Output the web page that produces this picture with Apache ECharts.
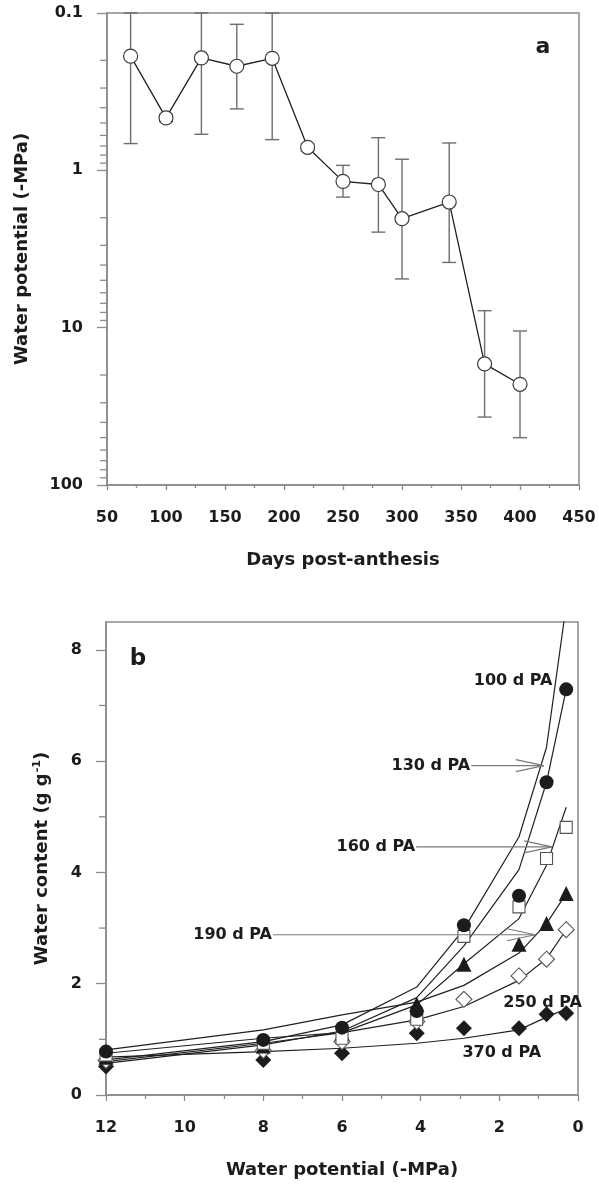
<!DOCTYPE html>
<html>
<head>
<meta charset="utf-8">
<script src="https://cdn.jsdelivr.net/npm/echarts@6/dist/echarts.min.js"></script>
<style>
  html, body { margin: 0; padding: 0; background: #fff; }
  #chart { width: 599px; height: 1184px; }
</style>
</head>
<body>
<div id="chart"></div>
<script>
// --- Panel a: water potential vs days post-anthesis ---
const days = [70, 100, 130, 160, 190, 220, 250, 280, 300, 340, 370, 400];
const potential = [0.188, 0.464, 0.193, 0.218, 0.194, 0.714, 1.175, 1.23, 2.03, 1.59, 17.0, 22.9];
const errUpper = [0.1, 0.44, 0.1, 0.118, 0.1, 0.68, 0.93, 0.62, 0.85, 0.67, 7.8, 10.5];
const errLower = [0.676, 0.49, 0.59, 0.407, 0.638, 0.75, 1.48, 2.47, 4.9, 3.85, 37, 50];
const logMinorTicks = [0.2, 0.3, 0.4, 0.5, 0.6, 0.7, 0.8, 0.9, 2, 3, 4, 5, 6, 7, 8, 9, 20, 30, 40, 50, 60, 70, 80, 90];

// --- Panel b: water content vs water potential ---
const psiNodes = [12, 8, 6, 4.1, 2.9, 1.5, 0.8, 0.3];
const circles = [0.78, 0.99, 1.21, 1.51, 3.05, 3.58, 5.62, 7.29];
const squares = [0.72, 0.93, 1.02, 1.36, 2.85, 3.38, 4.25, 4.81];
const triangles = [0.68, 0.88, 1.12, 1.63, 2.35, 2.71, 3.08, 3.62];
const openDiamonds = [0.62, 0.80, 0.96, 1.32, 1.72, 2.14, 2.44, 2.97];
const filledDiamonds = [0.51, 0.63, 0.75, 1.11, 1.20, 1.20, 1.45, 1.47];

const fit100 = [0.63, 0.96, 1.26, 1.94, 2.98, 4.64, 6.25, 8.8];
const fit130 = [0.57, 0.90, 1.15, 1.75, 2.68, 4.05, 5.62, 7.29];
const fit160 = [0.60, 0.93, 1.12, 1.62, 2.36, 3.17, 4.13, 5.17];
const fit190 = [0.81, 1.17, 1.44, 1.67, 1.97, 2.55, 3.08, 3.62];
const fit250 = [0.75, 1.02, 1.12, 1.35, 1.59, 2.06, 2.45, 2.97];
const fit370 = [0.68, 0.78, 0.84, 0.93, 1.02, 1.17, 1.40, 1.55];

const contentMinorTicks = [1, 3, 5, 7];
const annoText = ['100 d PA', '130 d PA', '160 d PA', '190 d PA', '250 d PA', '370 d PA'];
const annoX = [0.65, 2.74, 4.14, 7.78, -0.1, 0.94];
const annoY = [7.45, 5.92, 4.46, 2.88, 1.65, 0.76];
const annoTip = [null, 0.87, 0.66, 1.09, null, null];

// --- Styles ---
const FONT = '"DejaVu Sans", sans-serif';
const AXIS = '#8a8a8a';
const INK = '#1c1c1c';
const labelStyle = { fontFamily: FONT, fontWeight: 'bold', fontSize: 16, color: INK };
const nameStyle = { fontFamily: FONT, fontWeight: 'bold', fontSize: 18, color: INK };

const zip = (xs, ys) => xs.map((x, i) => [x, ys[i]]);

// short outward ticks drawn at the left edge of a grid
function tickSeries(axisIdx, xAt, values) {
  return {
    type: 'custom', xAxisIndex: axisIdx, yAxisIndex: axisIdx, clip: false, silent: true, z: 1,
    data: values.map(v => [xAt, v]),
    renderItem: (params, api) => {
      const p = api.coord([api.value(0), api.value(1)]);
      return { type: 'line', shape: { x1: p[0] - 7, y1: p[1], x2: p[0], y2: p[1] },
               style: { stroke: AXIS, lineWidth: 1.3 } };
    }
  };
}

function fitLine(values) {
  return {
    type: 'line', xAxisIndex: 1, yAxisIndex: 1, data: zip(psiNodes, values),
    symbol: 'none', silent: true, z: 2,
    lineStyle: { color: '#202020', width: 1.2 }
  };
}

function markerSeries(values, symbol, size, filled) {
  return {
    type: 'scatter', xAxisIndex: 1, yAxisIndex: 1, data: zip(psiNodes, values),
    symbol: symbol, symbolSize: size, z: 4,
    itemStyle: filled
      ? { color: INK, opacity: 1 }
      : { color: '#fff', borderColor: '#555', borderWidth: 1.1, opacity: 1 }
  };
}

const axisLine = { onZero: false, lineStyle: { color: AXIS, width: 1.5 } };

const chart = echarts.init(document.getElementById('chart'), null, { renderer: 'canvas' });

const option = {
  animation: false,
  backgroundColor: '#fff',
  grid: [
    { left: 107, top: 13, width: 472, height: 472, show: true, borderColor: AXIS, borderWidth: 1.5 },
    { left: 106, top: 622, width: 472, height: 473, show: true, borderColor: AXIS, borderWidth: 1.5 }
  ],
  xAxis: [
    {
      gridIndex: 0, type: 'value', min: 50, max: 450, interval: 50,
      name: 'Days post-anthesis', nameLocation: 'middle', nameGap: 66, nameTextStyle: nameStyle,
      axisLine: axisLine,
      axisTick: { length: 5, lineStyle: { color: AXIS, width: 1.3 } },
      minorTick: { show: true, splitNumber: 2, length: 3, lineStyle: { color: AXIS, width: 1.3 } },
      splitLine: { show: false },
      axisLabel: Object.assign({ margin: 25 }, labelStyle)
    },
    {
      gridIndex: 1, type: 'value', min: 0, max: 12, interval: 2, inverse: true,
      name: 'Water potential (-MPa)', nameLocation: 'middle', nameGap: 66, nameTextStyle: nameStyle,
      axisLine: axisLine,
      axisTick: { length: 6, lineStyle: { color: AXIS, width: 1.3 } },
      minorTick: { show: true, splitNumber: 2, length: 4, lineStyle: { color: AXIS, width: 1.3 } },
      splitLine: { show: false },
      axisLabel: Object.assign({ margin: 25 }, labelStyle)
    }
  ],
  yAxis: [
    {
      gridIndex: 0, type: 'log', logBase: 10, min: 0.1, max: 100, splitNumber: 3, inverse: true,
      name: 'Water potential (-MPa)', nameLocation: 'middle', nameGap: 76, nameTextStyle: nameStyle,
      axisLine: axisLine,
      axisTick: { length: 10, lineStyle: { color: AXIS, width: 1.3 } },
      minorTick: { show: false },
      splitLine: { show: false },
      axisLabel: Object.assign({ margin: 24, formatter: v => String(+(+v).toPrecision(3)) }, labelStyle)
    },
    {
      gridIndex: 1, type: 'value', min: 0, max: 8.5,
      name: 'Water content (g g{sup|-1})', nameLocation: 'middle', nameGap: 54,
      nameTextStyle: Object.assign({
        rich: { sup: { fontFamily: FONT, fontWeight: 'bold', fontSize: 11, color: INK, verticalAlign: 'top', padding: [0, 0, 9, 1] } }
      }, nameStyle),
      axisLine: axisLine,
      axisTick: { length: 10, customValues: [0, 2, 4, 6, 8], lineStyle: { color: AXIS, width: 1.3 } },
      minorTick: { show: false },
      splitLine: { show: false },
      axisLabel: Object.assign({ margin: 24, customValues: [0, 2, 4, 6, 8] }, labelStyle)
    }
  ],
  graphic: [
    { type: 'text', x: 543, y: 47, style: { text: 'a', font: 'bold 22px ' + FONT, fill: INK, align: 'center', verticalAlign: 'middle' } },
    { type: 'text', x: 138, y: 659, style: { text: 'b', font: 'bold 23px ' + FONT, fill: INK, align: 'center', verticalAlign: 'middle' } }
  ],
  series: [
    tickSeries(0, 50, logMinorTicks),
    {
      type: 'custom', xAxisIndex: 0, yAxisIndex: 0, silent: true, z: 2,
      encode: { x: 0, y: [1, 2] },
      data: days.map((d, i) => [d, errUpper[i], errLower[i]]),
      renderItem: (params, api) => {
        const top = api.coord([api.value(0), api.value(1)]);
        const bot = api.coord([api.value(0), api.value(2)]);
        const st = { stroke: '#6e6e6e', lineWidth: 1.4 };
        const w = 7;
        return {
          type: 'group',
          children: [
            { type: 'line', shape: { x1: top[0], y1: top[1], x2: bot[0], y2: bot[1] }, style: st },
            { type: 'line', shape: { x1: top[0] - w, y1: top[1], x2: top[0] + w, y2: top[1] }, style: st },
            { type: 'line', shape: { x1: bot[0] - w, y1: bot[1], x2: bot[0] + w, y2: bot[1] }, style: st }
          ]
        };
      }
    },
    {
      type: 'line', xAxisIndex: 0, yAxisIndex: 0, data: zip(days, potential), z: 3,
      symbol: 'circle', symbolSize: 14,
      lineStyle: { color: '#202020', width: 1.3 },
      itemStyle: { color: '#fff', borderColor: '#3a3a3a', borderWidth: 1.2 }
    },

    tickSeries(1, 12, contentMinorTicks),
    fitLine(fit100), fitLine(fit130), fitLine(fit160), fitLine(fit190), fitLine(fit250), fitLine(fit370),
    markerSeries(filledDiamonds, 'diamond', 16, true),
    markerSeries(openDiamonds, 'diamond', 16, false),
    markerSeries(triangles, 'triangle', 15, true),
    markerSeries(squares, 'rect', 12, false),
    markerSeries(circles, 'circle', 14, true),
    {
      type: 'custom', xAxisIndex: 1, yAxisIndex: 1, clip: false, silent: true, z: 5,
      data: zip(annoX, annoY),
      renderItem: (params, api) => {
        const i = params.dataIndex;
        const p = api.coord([api.value(0), api.value(1)]);
        const children = [{
          type: 'text',
          style: { text: annoText[i], x: p[0], y: p[1], align: 'right', verticalAlign: 'middle',
                   font: 'bold 16px ' + FONT, fill: INK }
        }];
        if (annoTip[i] != null) {
          const tip = api.coord([annoTip[i], api.value(1)]);
          const st = { stroke: '#7a7a7a', lineWidth: 1.2 };
          children.push(
            { type: 'line', shape: { x1: p[0] + 1, y1: p[1], x2: tip[0], y2: p[1] }, style: st },
            { type: 'line', shape: { x1: tip[0] - 28, y1: p[1] - 6, x2: tip[0], y2: p[1] }, style: st },
            { type: 'line', shape: { x1: tip[0] - 28, y1: p[1] + 6, x2: tip[0], y2: p[1] }, style: st }
          );
        }
        return { type: 'group', children: children };
      }
    }
  ]
};

chart.setOption(option);
</script>
</body>
</html>
